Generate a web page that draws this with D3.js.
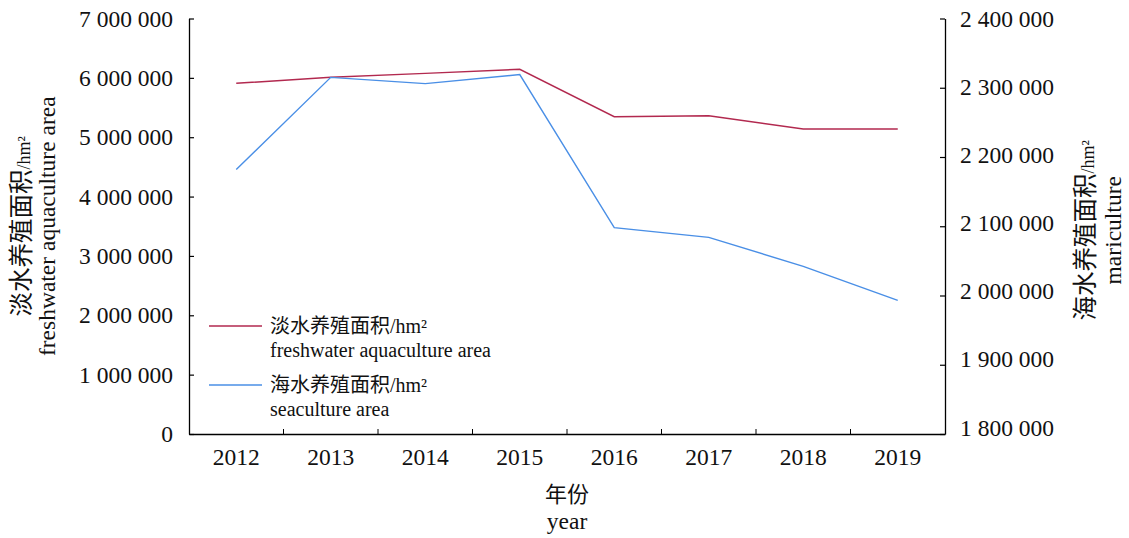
<!DOCTYPE html>
<html>
<head>
<meta charset="utf-8">
<script src="https://cdn.jsdelivr.net/npm/d3@7"></script>
<style>
  body { margin: 0; background: #fff; }
  svg text { font-family: "Liberation Serif", "Times New Roman", "Noto Sans CJK SC", serif; fill: #111; }
</style>
</head>
<body>
<div id="chart"></div>
<script>
// data
const years = ["2012", "2013", "2014", "2015", "2016", "2017", "2018", "2019"];
const freshwater = [5908000, 6009000, 6076000, 6144000, 5345000, 5362000, 5138000, 5138000];
const seaculture = [2182000, 2315000, 2306000, 2319000, 2098000, 2084000, 2042000, 1993000];
const leftTicks = [0, 1000000, 2000000, 3000000, 4000000, 5000000, 6000000, 7000000];
const rightTicks = [1800000, 1900000, 2000000, 2100000, 2200000, 2300000, 2400000];

const W = 1129, H = 538;
const margin = { top: 18.5, right: 184, bottom: 104, left: 189 };
const width = W - margin.left - margin.right;
const height = H - margin.top - margin.bottom;

const redColor = "#b2294f";
const blueColor = "#4a8fe6";

const svg = d3.select("#chart")
    .append("svg")
    .attr("width", W)
    .attr("height", H);

const g = svg.append("g")
    .attr("transform", `translate(${margin.left},${margin.top})`);

// scales
const xBand = d3.scaleBand().domain(years).range([0, width]).padding(0);
const yLeft = d3.scaleLinear().domain([0, 7000000]).range([height, 0]);
const yRight = d3.scaleLinear().domain([1800000, 2400000]).range([height, 0]);

const fmt = v => d3.format(",")(v).replace(/,/g, " ");
const cx = d => xBand(d) + xBand.bandwidth() / 2;

// left axis
const leftAxis = g.append("g")
    .call(d3.axisLeft(yLeft).tickValues(leftTicks).tickFormat(fmt)
        .tickSizeInner(-5).tickSizeOuter(0).tickPadding(16));
leftAxis.selectAll("text").style("font-size", "23.5px");

// right axis
const rightAxis = g.append("g")
    .attr("transform", `translate(${width},0)`)
    .call(d3.axisRight(yRight).tickValues(rightTicks).tickFormat(fmt)
        .tickSizeInner(-5).tickSizeOuter(0).tickPadding(15));
rightAxis.selectAll("text")
    .style("font-size", "23.5px")
    .attr("dy", (d, i) => (0.32 - (rightTicks.length - 1 - i) * 0.045) + "em");

// bottom axis: labels at band centres, ticks at band boundaries
const bottomAxis = g.append("g")
    .attr("transform", `translate(0,${height})`)
    .call(d3.axisBottom(xBand).tickSize(0).tickPadding(14));
bottomAxis.selectAll("text").style("font-size", "23.5px");

bottomAxis.selectAll(".boundary")
    .data(years.slice(1))
    .enter()
    .append("line")
    .attr("class", "boundary")
    .attr("x1", d => xBand(d))
    .attr("x2", d => xBand(d))
    .attr("y1", 0)
    .attr("y2", -5)
    .attr("stroke", "#000");

g.selectAll(".domain").attr("stroke", "#000").attr("stroke-width", 1.3);
g.selectAll(".tick line").attr("stroke", "#000").attr("stroke-width", 1.2);

// lines
const lineLeft = d3.line()
    .x((d, i) => cx(years[i]))
    .y(d => yLeft(d));
const lineRight = d3.line()
    .x((d, i) => cx(years[i]))
    .y(d => yRight(d));

g.append("path")
    .datum(freshwater)
    .attr("d", lineLeft)
    .attr("fill", "none")
    .attr("stroke", redColor)
    .attr("stroke-width", 1.4);

g.append("path")
    .datum(seaculture)
    .attr("d", lineRight)
    .attr("fill", "none")
    .attr("stroke", blueColor)
    .attr("stroke-width", 1.4);

// axis titles
const midY = margin.top + height / 2;

const leftTitle = svg.append("text")
    .attr("transform", `translate(30,${midY}) rotate(-90)`)
    .attr("text-anchor", "middle");
leftTitle.append("tspan").style("font-size", "24.5px").text("淡水养殖面积");
leftTitle.append("tspan").style("font-size", "18px").text("/hm²");

svg.append("text")
    .attr("transform", `translate(55,${midY}) rotate(-90)`)
    .attr("text-anchor", "middle")
    .style("font-size", "23.5px")
    .text("freshwater aquaculture area");

const rightTitle = svg.append("text")
    .attr("transform", `translate(1094,${midY + 4}) rotate(-90)`)
    .attr("text-anchor", "middle");
rightTitle.append("tspan").style("font-size", "24.5px").text("海水养殖面积");
rightTitle.append("tspan").style("font-size", "18px").text("/hm²");

svg.append("text")
    .attr("transform", `translate(1121,${midY + 4}) rotate(-90)`)
    .attr("text-anchor", "middle")
    .style("font-size", "23.5px")
    .text("mariculture");

// x title
svg.append("text")
    .attr("x", margin.left + width / 2)
    .attr("y", 502)
    .attr("text-anchor", "middle")
    .style("font-size", "22px")
    .text("年份");

svg.append("text")
    .attr("x", margin.left + width / 2)
    .attr("y", 529)
    .attr("text-anchor", "middle")
    .style("font-size", "23.5px")
    .text("year");

// legend
const legendItems = [
    { zh: "淡水养殖面积", en: "freshwater aquaculture area", color: redColor },
    { zh: "海水养殖面积", en: "seaculture area", color: blueColor }
];

const legend = svg.append("g").attr("transform", "translate(209,326)");

legendItems.forEach((item, i) => {
    const row = legend.append("g").attr("transform", `translate(0,${i * 59})`);
    row.append("line")
        .attr("x1", 0).attr("x2", 53)
        .attr("y1", 0).attr("y2", 0)
        .attr("stroke", item.color)
        .attr("stroke-width", 1.4);
    const t = row.append("text")
        .attr("x", 61)
        .attr("y", 7)
        .style("font-size", "20px");
    t.append("tspan").text(item.zh);
    t.append("tspan").text("/hm²");
    row.append("text")
        .attr("x", 61)
        .attr("y", 31)
        .style("font-size", "20px")
        .text(item.en);
});
</script>
</body>
</html>
